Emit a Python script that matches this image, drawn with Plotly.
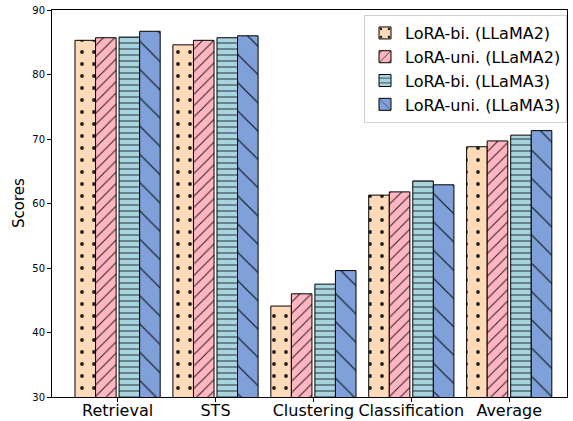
import plotly.graph_objects as go

categories = ["Retrieval", "STS", "Clustering", "Classification", "Average"]
series_names = ["LoRA-bi. (LLaMA2)", "LoRA-uni. (LLaMA2)", "LoRA-bi. (LLaMA3)", "LoRA-uni. (LLaMA3)"]
bi_llama2 = [85.3, 84.6, 44.1, 61.3, 68.8]
uni_llama2 = [85.7, 85.3, 46.0, 61.8, 69.7]
bi_llama3 = [85.8, 85.7, 47.5, 63.5, 70.6]
uni_llama3 = [86.7, 86.0, 49.6, 62.9, 71.3]

series_values = [bi_llama2, uni_llama2, bi_llama3, uni_llama3]
colors = ["#FFDAB9", "#FFB6C1", "#A8D4E0", "#7FA0D8"]
shapes = [".", "/", "-", "\\"]
sizes = [12, 8, 6, 20]
solid = [0.08, 0.12, 0.15, 0.06]
offsets = [-0.435, -0.225, 0.015, 0.225]
width = 0.21

fig = go.Figure()
for name, vals, c, sh, sz, so, off in zip(series_names, series_values, colors, shapes, sizes, solid, offsets):
    fig.add_trace(go.Bar(
        x=categories, y=vals, name=name,
        offset=off, width=width,
        marker=dict(color=c, line=dict(color="black", width=1),
                    pattern=dict(shape=sh, size=sz, solidity=so, fgcolor="black", fgopacity=0.85)),
    ))

fig.update_layout(
    width=573, height=421,
    barmode="overlay",
    plot_bgcolor="white", paper_bgcolor="white",
    margin=dict(l=52, r=6, t=10, b=24, autoexpand=False),
    font=dict(family="DejaVu Sans", color="black"),
    showlegend=True,
    legend=dict(x=1.0, y=0.987, xanchor="right", yanchor="top",
                bgcolor="rgba(255,255,255,0.8)", bordercolor="#d0d0d0", borderwidth=1,
                font=dict(size=16), tracegroupgap=2, itemwidth=30),
    xaxis=dict(range=[-0.67, 4.59], showline=True, linecolor="black", linewidth=1, mirror=True,
               ticks="outside", ticklen=4, tickcolor="black", tickfont=dict(size=16), showgrid=False,
               automargin=False, ticklabelstandoff=-5),
    yaxis=dict(range=[30, 90], showline=True, linecolor="black", linewidth=1, mirror=True,
               ticks="outside", ticklen=4, tickcolor="black", tickfont=dict(size=10), showgrid=False,
               tickvals=[30, 40, 50, 60, 70, 80, 90], zeroline=False, automargin=False),
    annotations=[dict(text="Scores", textangle=-90, xref="paper", yref="paper",
                      x=-0.065, y=0.5, xanchor="center", yanchor="middle",
                      showarrow=False, font=dict(size=15))],
)

fig.write_html("out.html", config={"displayModeBar": False},
               post_script="document.body.style.margin='0';document.body.style.overflow='hidden';")
